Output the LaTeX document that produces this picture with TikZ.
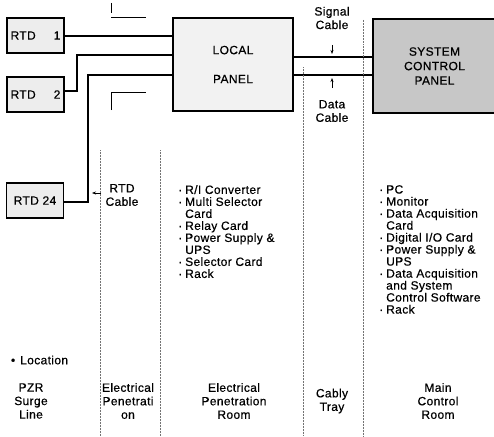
\documentclass[tikz,border=0pt]{standalone}
\usepackage{fontspec}
\setmainfont{Liberation Sans}[LetterSpace=3, FakeBold=0.5]
\usetikzlibrary{positioning,arrows.meta}

\tikzset{
  rtdbox/.style={draw, line width=1.2pt, fill=black!7, minimum width=57pt, minimum height=35pt, inner sep=0pt, font=\fontsize{12}{13}\selectfont},
  panel/.style={draw, line width=1.3pt, inner sep=0pt, align=center},
  wire/.style={line width=1.1pt},
  sepline/.style={densely dotted, line width=0.5pt, black!55},
  lbl/.style={align=center, inner sep=0pt, font=\fontsize{12}{13.5}\selectfont},
  lst/.style={align=left, anchor=north west, inner sep=0pt, font=\fontsize{12}{12}\selectfont},
}
\newcommand{\itm}{\llap{\textperiodcentered\hspace{3pt}}}

\begin{document}
\begin{tikzpicture}[x=1pt, y=-1pt, >={Stealth[length=4pt,width=3pt]}]
  \clip (0,0) rectangle (494,436);
  \fill[white] (0,0) rectangle (494,436);

  % Khối RTD và các tủ
  \node[rtdbox] (rtd1) at (35.5,35.5) {RTD\hspace{1.5em}1};
  \node[rtdbox] (rtd2) at (35.5,94.5) {RTD\hspace{1.5em}2};
  \node[rtdbox] (rtd24) at (35,200.5) {RTD 24};
  \node[panel, fill=black!5, minimum width=120pt, minimum height=93pt, font=\fontsize{12}{14}\selectfont] (local) at (233,64.5) {LOCAL\\[15pt]PANEL};
  \node[panel, fill=black!22, minimum width=123pt, minimum height=94pt, font=\fontsize{12}{14.5}\selectfont] (scp) at (434.5,66) {SYSTEM\\CONTROL\\PANEL};

  % Điểm gấp của cáp RTD
  \coordinate (k2) at (77,91);
  \coordinate (k24) at (88,202);

  \draw[wire] (rtd1.east |- 0,36) -- (local.west |- 0,36);
  \draw[wire] (rtd2.east |- k2) -- (k2) |- (local.west |- 0,55);
  \draw[wire] (rtd24.east |- k24) -- (k24) |- (local.west |- 0,75);

  % Cáp tín hiệu và cáp dữ liệu
  \draw[wire] (local.east |- 0,57) -- (scp.west |- 0,57);
  \draw[wire] (local.east |- 0,75) -- (scp.west |- 0,75);

  % Ký hiệu xuyên tường
  \draw[line width=0.8pt] (111,3) -- (111,13);
  \draw[line width=0.8pt] (111,17) -- (146,17);
  \draw[line width=0.8pt] (111,110) -- (111,92) -- (146,92);

  % Ranh giới các khu vực
  \draw[sepline] (100,150) -- (100,436);
  \draw[sepline] (160,150) -- (160,436);
  \draw[sepline] (303,67) -- (303,436);
  \draw[sepline] (363,20) -- (363,436);

  % Nhãn cáp
  \node[lbl] (sig) at (332,18) {Signal\\Cable};
  \node[lbl] (dat) at (332,111) {Data\\Cable};
  \node[lbl] (rtdc) at (122,195) {RTD\\Cable};
  \coordinate (sigtip) at (332,54);
  \coordinate (dattip) at (332,78);
  \coordinate (rtdtip) at (92,193);
  \draw[->, line width=0.6pt] (332,45) -- (sigtip);
  \draw[->, line width=0.6pt] (332,88) -- (dattip);
  \draw[->, line width=0.6pt] (101,193) -- (rtdtip);

  % Danh sách thiết bị
  \node[lst] (eprlist) at (185,185) {\itm R/I Converter\\ \itm Multi Selector\\ Card\\ \itm Relay Card\\ \itm Power Supply \&\\ UPS\\ \itm Selector Card\\ \itm Rack};
  \node[lst] (mcrlist) at (386,185) {\itm PC\\ \itm Monitor\\ \itm Data Acquisition\\ Card\\ \itm Digital I/O Card\\ \itm Power Supply \&\\ UPS\\ \itm Data Acquisition\\ and System\\ Control Software\\ \itm Rack};
  \node[lst, anchor=west] (loc) at (20,360) {\llap{\textbullet\hspace{5pt}}Location};

  % Tên khu vực
  \node[lbl] (c1) at (31,401) {PZR\\Surge\\Line};
  \node[lbl] (c2) at (128,401) {Electrical\\Penetrati\\on};
  \node[lbl] (c3) at (234,401) {Electrical\\Penetration\\Room};
  \node[lbl] (c4) at (332,401) {Cably\\Tray};
  \node[lbl] (c5) at (438,401) {Main\\Control\\Room};
\end{tikzpicture}
\end{document}
